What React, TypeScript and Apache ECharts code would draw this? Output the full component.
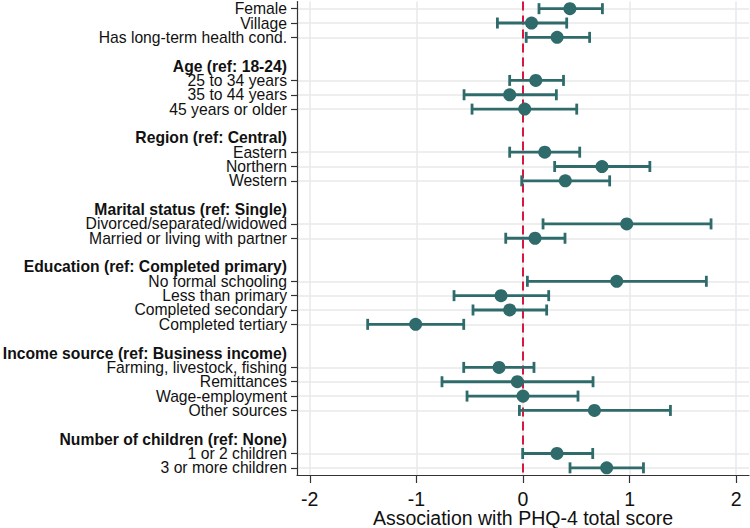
import React, { useEffect, useRef } from "react";
import * as echarts from "echarts";

const rowLabels: string[] = [
  "Female",
  "Village",
  "Has long-term health cond.",
  "",
  "Age (ref: 18-24)",
  "25 to 34 years",
  "35 to 44 years",
  "45 years or older",
  "",
  "Region (ref: Central)",
  "Eastern",
  "Northern",
  "Western",
  "",
  "Marital status (ref: Single)",
  "Divorced/separated/widowed",
  "Married or living with partner",
  "",
  "Education (ref: Completed primary)",
  "No formal schooling",
  "Less than primary",
  "Completed secondary",
  "Completed tertiary",
  "",
  "Income source (ref: Business income)",
  "Farming, livestock, fishing",
  "Remittances",
  "Wage-employment",
  "Other sources",
  "",
  "Number of children (ref: None)",
  "1 or 2 children",
  "3 or more children",
];

const headerLabels: string[] = [
  "Age (ref: 18-24)",
  "Region (ref: Central)",
  "Marital status (ref: Single)",
  "Education (ref: Completed primary)",
  "Income source (ref: Business income)",
  "Number of children (ref: None)",
];

const estimates: (number | null)[] = [
  0.44, 0.08, 0.32, null,
  null, 0.12, -0.125, 0.016, null,
  null, 0.204, 0.741, 0.397, null,
  null, 0.973, 0.113, null,
  null, 0.879, -0.206, -0.125, -1.007, null,
  null, -0.225, -0.053, 0.0, 0.67, null,
  null, 0.319, 0.785,
];

const lowerCI: (number | null)[] = [
  0.15, -0.24, 0.03, null,
  null, -0.125, -0.553, -0.478, null,
  null, -0.125, 0.297, -0.012, null,
  null, 0.188, -0.162, null,
  null, 0.041, -0.647, -0.469, -1.457, null,
  null, -0.556, -0.76, -0.525, -0.034, null,
  null, -0.003, 0.441,
];

const upperCI: (number | null)[] = [
  0.745, 0.41, 0.625, null,
  null, 0.38, 0.313, 0.504, null,
  null, 0.532, 1.19, 0.813, null,
  null, 1.764, 0.394, null,
  null, 1.72, 0.241, 0.222, -0.556, null,
  null, 0.103, 0.657, 0.516, 1.383, null,
  null, 0.654, 1.13,
];

const xTicks: number[] = [-2, -1, 0, 1, 2];
const referenceValue = 0;
const xTitle = "Association with PHQ-4 total score";

const TEAL = "#2f6b6b";
const RED = "#d8173f";
const GRID = "#e9e9e9";
const FONT = "'Liberation Sans', Arial, Helvetica, sans-serif";

export default function App() {
  const ref = useRef<HTMLDivElement>(null);

  useEffect(() => {
    if (!ref.current) return;
    const chart = echarts.init(ref.current, null, { renderer: "svg" });

    const categories = rowLabels.map((l, i) => (l === "" ? `__blank${i}` : l));
    const hasData = (i: number) => estimates[i] !== null && estimates[i] !== undefined;

    const pointData: [number, number][] = [];
    const ciData: [number, number, number][] = [];
    estimates.forEach((e, i) => {
      if (e !== null && lowerCI[i] !== null && upperCI[i] !== null) {
        pointData.push([e, i]);
        ciData.push([lowerCI[i] as number, upperCI[i] as number, i]);
      }
    });

    const option: any = {
      animation: false,
      backgroundColor: "#ffffff",
      textStyle: { fontFamily: FONT },
      grid: {
        left: 297,
        right: 1,
        top: 1.5,
        bottom: 53,
        containLabel: false,
        outerBoundsMode: "none",
      },
      xAxis: {
        type: "value",
        min: -2.12,
        max: 2.12,
        name: xTitle,
        nameLocation: "middle",
        nameGap: 34.5,
        nameMoveOverlap: false,
        nameTextStyle: { fontSize: 19.5, lineHeight: 16, color: "#111", fontFamily: FONT },
        axisLine: { show: true, onZero: false, lineStyle: { color: "#333", width: 1.2 } },
        axisTick: {
          show: true,
          length: 8,
          customValues: xTicks,
          lineStyle: { color: "#333", width: 1.2 },
        },
        axisLabel: {
          customValues: xTicks,
          fontSize: 19.5,
          lineHeight: 16,
          color: "#111",
          margin: 15.5,
          fontFamily: FONT,
        },
        splitLine: { show: true, lineStyle: { color: GRID, width: 1.5 } },
      },
      yAxis: {
        type: "category",
        data: categories,
        inverse: true,
        boundaryGap: true,
        axisLine: { show: true, onZero: false, lineStyle: { color: "#333", width: 1.2 } },
        axisTick: {
          show: true,
          alignWithLabel: true,
          length: 6,
          interval: (index: number) => hasData(index),
          lineStyle: { color: "#333", width: 1.2 },
        },
        axisLabel: {
          interval: 0,
          margin: 10,
          fontSize: 15.7,
          lineHeight: 13,
          color: "#111",
          fontFamily: FONT,
          formatter: (value: string, index: number) => {
            const label = rowLabels[index] ?? "";
            if (label === "") return "";
            if (headerLabels.includes(label)) return `{h|${label}}`;
            return label;
          },
          rich: {
            h: { fontWeight: "bold", fontSize: 15.7, lineHeight: 13, color: "#111", fontFamily: FONT },
          },
        },
        splitLine: {
          show: true,
          alignWithLabel: true,
          interval: (index: number) => hasData(index),
          lineStyle: { color: GRID, width: 1.5 },
        },
      },
      series: [
        {
          type: "custom",
          z: 1,
          silent: true,
          data: [[referenceValue, 0]],
          encode: { x: 0, y: 1 },
          renderItem: (params: any, api: any) => {
            const cs = params.coordSys;
            const x = api.coord([api.value(0), 0])[0];
            const dash = 9;
            const gap = 5;
            const children: any[] = [];
            const yEnd = cs.y + cs.height;
            for (let y = cs.y; y < yEnd; y += dash + gap) {
              children.push({
                type: "rect",
                shape: { x: x - 1, y, width: 2, height: Math.min(dash, yEnd - y) },
                style: { fill: RED },
              });
            }
            return { type: "group", children };
          },
        },
        {
          type: "custom",
          z: 3,
          silent: true,
          data: ciData,
          encode: { x: [0, 1], y: 2 },
          renderItem: (params: any, api: any) => {
            const lo = api.value(0);
            const hi = api.value(1);
            const row = api.value(2);
            const p1 = api.coord([lo, row]);
            const p2 = api.coord([hi, row]);
            const cap = 5.5;
            const style = { stroke: TEAL, lineWidth: 2.8, fill: null };
            return {
              type: "group",
              children: [
                { type: "line", shape: { x1: p1[0], y1: p1[1], x2: p2[0], y2: p2[1] }, style },
                { type: "line", shape: { x1: p1[0], y1: p1[1] - cap, x2: p1[0], y2: p1[1] + cap }, style },
                { type: "line", shape: { x1: p2[0], y1: p2[1] - cap, x2: p2[0], y2: p2[1] + cap }, style },
              ],
            };
          },
        },
        {
          type: "scatter",
          z: 4,
          silent: true,
          data: pointData,
          symbol: "circle",
          symbolSize: 13,
          itemStyle: { color: TEAL, opacity: 1 },
        },
      ],
    };

    chart.setOption(option);
    return () => chart.dispose();
  }, []);

  return (
    <div
      ref={ref}
      style={{ position: "fixed", left: 0, top: 0, width: 750, height: 528, background: "#fff" }}
    />
  );
}
